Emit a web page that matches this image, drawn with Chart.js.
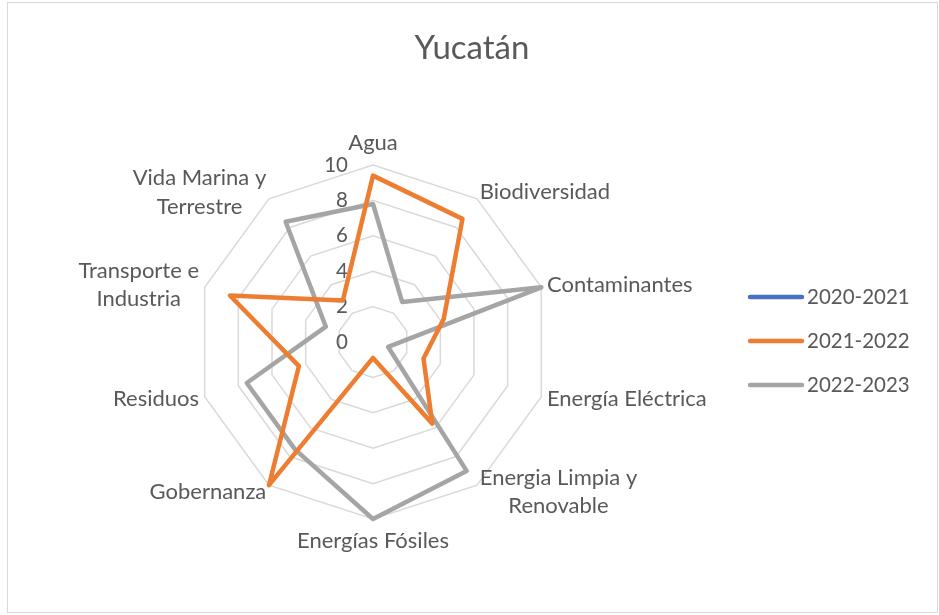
<!DOCTYPE html>
<html>
<head>
<meta charset="utf-8">
<script src="https://cdn.jsdelivr.net/npm/chart.js@4/dist/chart.umd.min.js"></script>
<style>
  html, body { margin: 0; padding: 0; background: #fff; }
  #wrap { position: relative; width: 939px; height: 615px; }
  #frame { position: absolute; left: 7px; top: 2px; width: 929px; height: 609px; border: 1px solid #d9d9d9; }
  #chart { position: absolute; left: 0; top: 0; }
</style>
</head>
<body>
<div id="wrap">
  <div id="frame"></div>
  <canvas id="chart" width="939" height="615"></canvas>
</div>
<script>
const title = "Yucatán";
const categories = [
  "Agua",
  "Biodiversidad",
  "Contaminantes",
  "Energía Eléctrica",
  ["Energia Limpia y", "Renovable"],
  "Energías Fósiles",
  "Gobernanza",
  "Residuos",
  ["Transporte e", "Industria"],
  ["Vida Marina y", "Terrestre"]
];
const seriesNames = ["2020-2021", "2021-2022", "2022-2023"];
const values2020 = [];
const values2021 = [9.4, 8.6, 4.2, 3.0, 5.7, 0.9, 10, 4.4, 8.5, 2.9];
const values2022 = [7.8, 2.8, 10, 0.9, 9.0, 10, 7.5, 7.5, 2.8, 8.4];
const tickValues = [0, 2, 4, 6, 8, 10];

(function() {
  "use strict";
  const textColor = "#595959";
  const labelFont = "22px Lato";
  const digitFont = "20.5px Lato";

  // excel-like labels, ticks, title and legend
  const decorations = {
    id: "decorations",
    beforeDatasetsDraw(chart) {
      const ctx = chart.ctx;
      const r = chart.scales.r;
      ctx.save();
      ctx.font = digitFont;
      ctx.fillStyle = textColor;
      ctx.textAlign = "right";
      ctx.textBaseline = "middle";
      tickValues.forEach((v) => {
        ctx.fillText(String(v), r.xCenter - 25, r.yCenter - r.getDistanceFromCenterForValue(v));
      });
      ctx.restore();
    },
    afterDraw(chart) {
      const ctx = chart.ctx;
      const r = chart.scales.r;
      ctx.save();
      ctx.fillStyle = textColor;

      ctx.font = "33px Lato";
      ctx.textAlign = "center";
      ctx.textBaseline = "alphabetic";
      ctx.fillText(title, 472, 59);

      ctx.font = labelFont;
      const lineH = 28.5;
      categories.forEach((cat, i) => {
        const lines = Array.isArray(cat) ? cat : [cat];
        const p = r.getPointPosition(i, r.drawingArea + 8);
        const dx = p.x - r.xCenter;
        const dy = p.y - r.yCenter;
        const w = Math.max(...lines.map((l) => ctx.measureText(l).width));
        const h = lines.length * lineH;
        let left = p.x - w / 2;
        if (dx > 1) left = p.x - 2;
        if (dx < -1) left = p.x - w + 2;
        let top = p.y - h / 2;
        if (Math.abs(dx) <= 1) top = dy < 0 ? p.y - h : p.y;
        ctx.textAlign = "center";
        ctx.textBaseline = "middle";
        lines.forEach((l, k) => {
          ctx.fillText(l, left + w / 2, top + lineH * (k + 0.5));
        });
      });

      ctx.font = digitFont;
      ctx.textAlign = "left";
      ctx.textBaseline = "middle";
      ctx.lineCap = "round";
      chart.data.datasets.forEach((ds, i) => {
        const y = 297 + i * 44;
        ctx.strokeStyle = ds.borderColor;
        ctx.lineWidth = 4.5;
        ctx.beginPath();
        ctx.moveTo(750, y);
        ctx.lineTo(802, y);
        ctx.stroke();
        ctx.fillText(ds.label, 807, y);
      });
      ctx.restore();
    }
  };

  const ctx = document.getElementById("chart").getContext("2d");
  new Chart(ctx, {
    type: "radar",
    data: {
      labels: categories,
      datasets: [
        { label: seriesNames[0], data: values2020, borderColor: "#4472C4" },
        { label: seriesNames[1], data: values2021, borderColor: "#ED7D31" },
        { label: seriesNames[2], data: values2022, borderColor: "#A5A5A5" }
      ]
    },
    options: {
      responsive: false,
      animation: false,
      devicePixelRatio: 1,
      layout: {
        padding: { left: 196, right: 389, top: 165, bottom: 96 }
      },
      elements: {
        line: { borderWidth: 4.5, fill: false, tension: 0, borderJoinStyle: "round" },
        point: { radius: 0, hoverRadius: 0 }
      },
      plugins: {
        legend: { display: false },
        title: { display: false },
        tooltip: { enabled: false }
      },
      scales: {
        r: {
          min: 0,
          max: 10,
          ticks: { stepSize: 2, display: false },
          grid: { color: "#d9d9d9", lineWidth: 1.5 },
          angleLines: { display: false },
          pointLabels: { display: false }
        }
      }
    },
    plugins: [decorations]
  });
})();
</script>
</body>
</html>
